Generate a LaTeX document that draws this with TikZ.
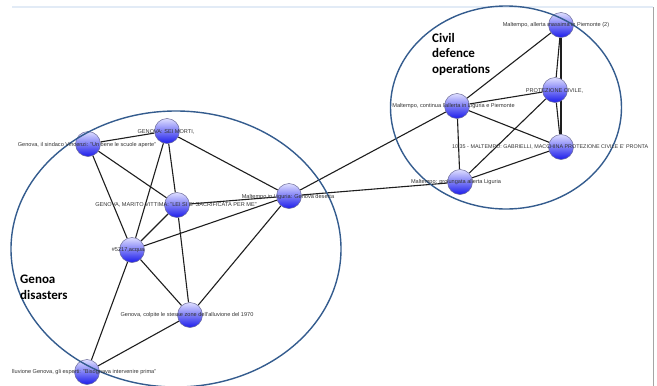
\documentclass[tikz,border=0pt]{standalone}
\usepackage{fontspec}
\setmainfont{Liberation Sans}
\newfontfamily\calfont{Carlito}
\definecolor{edgecol}{RGB}{30,30,30}
\definecolor{ellcol}{RGB}{52,92,142}
\definecolor{balltop}{RGB}{222,222,255}
\definecolor{ballbot}{RGB}{28,28,235}
\definecolor{ballrim}{RGB}{105,105,150}
\definecolor{topline}{RGB}{226,235,246}
\definecolor{sideline}{RGB}{165,165,165}
\pgfdeclarelayer{bg}
\pgfsetlayers{bg,main}
\tikzset{
  ball/.style={circle, minimum size=25pt, inner sep=0pt, draw=ballrim, line width=0.5pt,
    top color=balltop, bottom color=ballbot},
  lbl/.style={font=\fontsize{5.6}{6.5}\selectfont, text=black!80, inner sep=0pt},
  edge/.style={draw=edgecol, line width=1.1pt},
  ell/.style={draw=ellcol, line width=1.4pt},
  big/.style={font=\calfont\bfseries\fontsize{13}{15.5}\selectfont, anchor=base west, inner sep=0pt}
}
\begin{document}
\begin{tikzpicture}[x=1pt,y=-1pt]
\useasboundingbox (0,0) rectangle (657,386);
% frame lines
\draw[topline, line width=1.2pt] (12,7) -- (653,7);
\draw[sideline, line width=0.8pt] (653,7) -- (653,386);
\begin{scope}
\clip (0,0) rectangle (652.5,386);
% nodes
\node[ball] (n1) at (561,25) {};
\node[ball] (n2) at (555,90) {};
\node[ball] (n3) at (457,106) {};
\node[ball] (n4) at (561,147) {};
\node[ball] (n5) at (460,182) {};
\node[ball] (n6) at (289,196) {};
\node[ball] (n7) at (167,131) {};
\node[ball] (n8) at (88,144) {};
\node[ball] (n9) at (177,205) {};
\node[ball] (n10) at (132,250) {};
\node[ball] (n11) at (190,315) {};
\node[ball] (n12) at (87,372) {};
% edges
\begin{pgfonlayer}{bg}
\foreach \a/\b in {n1/n3, n1/n2, n1/n4, n2/n4, n2/n3, n2/n5, n3/n4, n3/n5, n4/n5,
  n3/n6, n5/n6, n6/n7, n6/n9, n6/n10, n6/n11, n7/n8, n7/n9, n7/n10, n8/n9, n8/n10,
  n9/n10, n9/n11, n10/n11, n10/n12, n11/n12}
  \draw[edge] (\a) -- (\b);
\end{pgfonlayer}
% group ellipses
\draw[ell] (176,249) ellipse [x radius=165, y radius=138];
\draw[ell] (506,107.5) ellipse [x radius=115.5, y radius=101.5];
% labels
\node[lbl] (t1) at (556,25) {Maltempo, allerta massima in Piemonte (2)};
\node[lbl] (t2) at (554.5,91) {PROTEZIONE CIVILE,};
\node[lbl] (t3) at (453.5,106) {Maltempo, continua l'allerta in Liguria e Piemonte};
\node[lbl, anchor=west, font=\fontsize{5.4}{6.5}\selectfont] (t4) at (452,147) {10:35 - MALTEMPO: GABRIELLI, MACCHINA PROTEZIONE CIVILE E' PRONTA};
\node[lbl] (t5) at (456,182) {Maltempo: prolungata allerta Liguria};
\node[lbl] (t6) at (288,197) {Maltempo in Liguria: Genova deserta};
\node[lbl] (t7) at (166,132) {GENOVA: SEI MORTI,};
\node[lbl] (t8) at (87,145) {Genova, il sindaco Vincenzi: "Un bene le scuole aperte"};
\node[lbl] (t9) at (176,205) {GENOVA, MARITO VITTIMA: "LEI SI E' SACRIFICATA PER ME"};
\node[lbl] (t10) at (128,250) {\#5217,acqua};
\node[lbl] (t11) at (187,315) {Genova, colpite le stesse zone dell'alluvione del 1970};
\node[lbl, anchor=west] (t12) at (12,372) {lluvione Genova, gli esperti: "Bisognava intervenire prima"};
% group titles
\node[big] (c1) at (432,42) {Civil};
\node[big] (c2) at (432,57.5) {defence};
\node[big] (c3) at (432,73) {operations};
\node[big] (g1) at (20,283) {Genoa};
\node[big] (g2) at (20,299) {disasters};
\end{scope}
\end{tikzpicture}
\end{document}
